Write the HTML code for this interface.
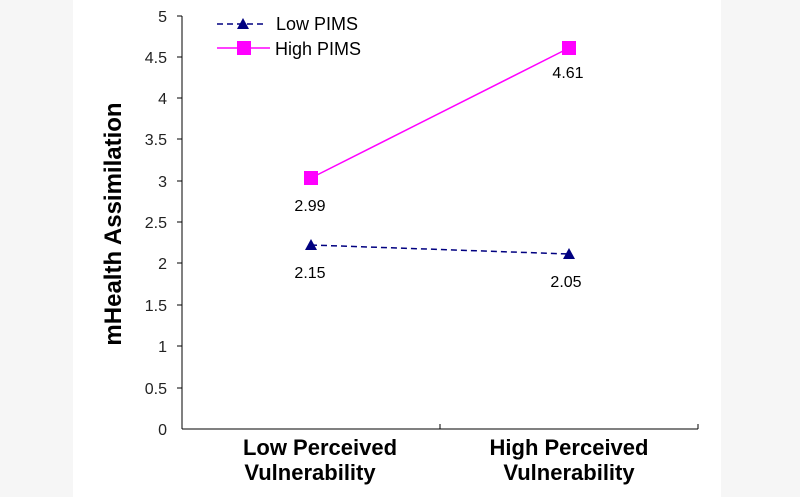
<!DOCTYPE html>
<html><head><style>body{margin:0}svg{display:block}</style></head><body>
<svg width="800" height="497" xmlns="http://www.w3.org/2000/svg" font-family="Liberation Sans, sans-serif">
<rect width="800" height="497" fill="#f6f6f6"/>
<rect x="73" y="0" width="648" height="497" fill="#fff"/>
<g stroke="#000" stroke-width="1">
<line x1="182" y1="16" x2="182" y2="429"/>
<line x1="182" y1="429" x2="698" y2="429"/>
<line x1="440" y1="429" x2="440" y2="424"/>
<line x1="698" y1="429" x2="698" y2="424"/>
<line x1="177" y1="16" x2="182" y2="16"/><line x1="177" y1="57" x2="182" y2="57"/>
<line x1="177" y1="98" x2="182" y2="98"/><line x1="177" y1="139" x2="182" y2="139"/>
<line x1="177" y1="181" x2="182" y2="181"/><line x1="177" y1="222" x2="182" y2="222"/>
<line x1="177" y1="263" x2="182" y2="263"/><line x1="177" y1="305" x2="182" y2="305"/>
<line x1="177" y1="346" x2="182" y2="346"/><line x1="177" y1="388" x2="182" y2="388"/>
</g>
<g font-size="16" fill="#222" text-anchor="end">
<text x="167" y="22">5</text><text x="167" y="63">4.5</text><text x="167" y="104">4</text>
<text x="167" y="145">3.5</text><text x="167" y="187">3</text><text x="167" y="228">2.5</text>
<text x="167" y="269">2</text><text x="167" y="311">1.5</text><text x="167" y="352">1</text>
<text x="167" y="394">0.5</text><text x="167" y="435">0</text>
</g>
<text transform="translate(121,224) rotate(-90)" text-anchor="middle" font-size="24" font-weight="bold">mHealth Assimilation</text>
<line x1="311" y1="245" x2="569" y2="254" stroke="#000080" stroke-width="1.5" stroke-dasharray="6,4"/>
<polygon points="311,239 305,250 317,250" fill="#000080"/>
<polygon points="569,248 563,259 575,259" fill="#000080"/>
<line x1="311" y1="178" x2="569" y2="48" stroke="#ff00ff" stroke-width="1.5"/>
<rect x="304" y="171" width="14" height="14" fill="#ff00ff"/>
<rect x="562" y="41" width="14" height="14" fill="#ff00ff"/>
<g font-size="16" text-anchor="middle" fill="#000">
<text x="310" y="211">2.99</text><text x="568" y="78">4.61</text>
<text x="310" y="278">2.15</text><text x="566" y="287">2.05</text>
</g>
<line x1="217" y1="24" x2="267" y2="24" stroke="#000080" stroke-width="1.5" stroke-dasharray="6,4"/>
<polygon points="243,18 237,29 249,29" fill="#000080"/>
<text x="276" y="30" font-size="18">Low PIMS</text>
<line x1="217" y1="48" x2="270" y2="48" stroke="#ff00ff" stroke-width="1.5"/>
<rect x="237" y="41" width="14" height="14" fill="#ff00ff"/>
<text x="275" y="55" font-size="18">High PIMS</text>
<g font-size="22" font-weight="bold" text-anchor="middle">
<text x="320" y="455">Low Perceived</text><text x="310" y="480">Vulnerability</text>
<text x="569" y="455">High Perceived</text><text x="569" y="480">Vulnerability</text>
</g>
</svg>
</body></html>
